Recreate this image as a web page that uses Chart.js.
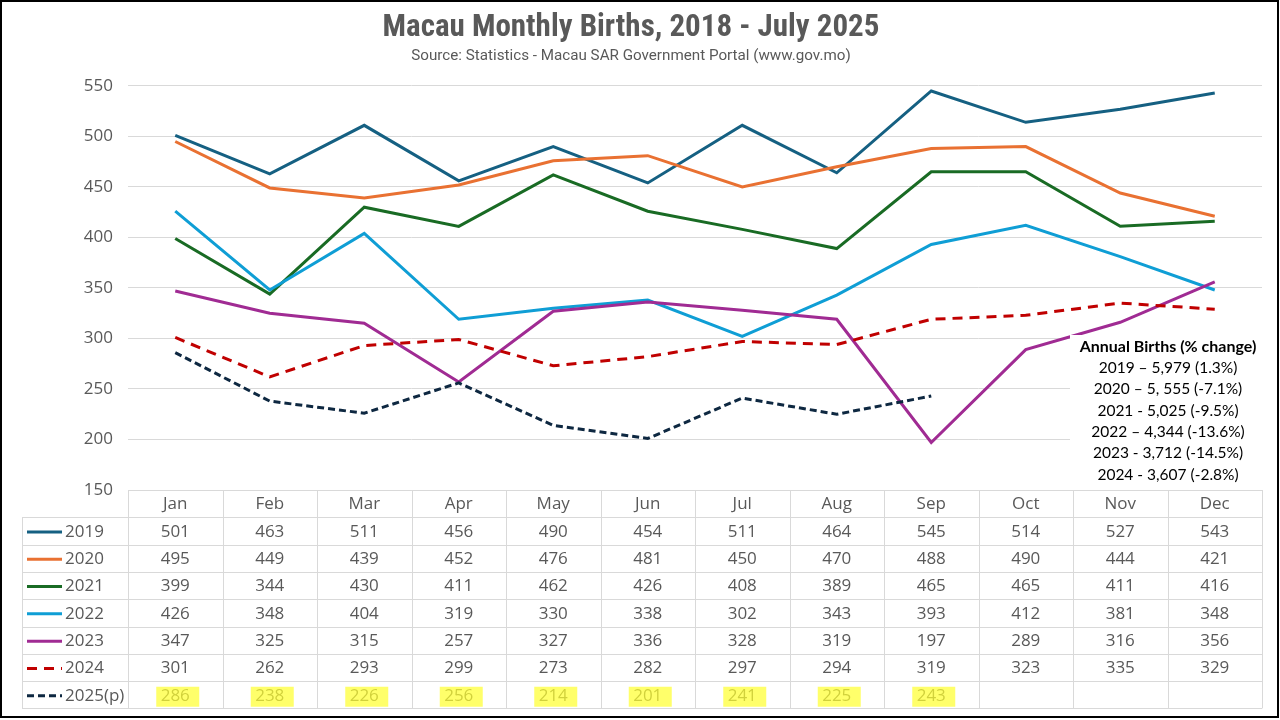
<!DOCTYPE html>
<html>
<head>
<meta charset="utf-8">
<title>Macau Monthly Births</title>
<script src="https://cdn.jsdelivr.net/npm/chart.js@4.4.1/dist/chart.umd.min.js"></script>
<style>
  body { margin: 0; background: #fff; }
  #wrap { width: 1280px; height: 720px; position: relative; }
</style>
</head>
<body>
<div id="wrap"><canvas id="chart"></canvas></div>
<script>
// data
const months = ["Jan", "Feb", "Mar", "Apr", "May", "Jun", "Jul", "Aug", "Sep", "Oct", "Nov", "Dec"];
const years = ["2019", "2020", "2021", "2022", "2023", "2024", "2025(p)"];
const births2019 = [501, 463, 511, 456, 490, 454, 511, 464, 545, 514, 527, 543];
const births2020 = [495, 449, 439, 452, 476, 481, 450, 470, 488, 490, 444, 421];
const births2021 = [399, 344, 430, 411, 462, 426, 408, 389, 465, 465, 411, 416];
const births2022 = [426, 348, 404, 319, 330, 338, 302, 343, 393, 412, 381, 348];
const births2023 = [347, 325, 315, 257, 327, 336, 328, 319, 197, 289, 316, 356];
const births2024 = [301, 262, 293, 299, 273, 282, 297, 294, 319, 323, 335, 329];
const births2025 = [286, 238, 226, 256, 214, 201, 241, 225, 243, null, null, null];
const yMin = 150, yMax = 550, yStep = 50;

const annualTitle = "Annual Births (% change)";
const annualLines = [
  "2019 \u2013 5,979 (1.3%)",
  "2020 \u2013 5, 555 (-7.1%)",
  "2021 - 5,025 (-9.5%)",
  "2022 \u2013 4,344 (-13.6%)",
  "2023 - 3,712 (-14.5%)",
  "2024 - 3,607 (-2.8%)"
];

const series = [births2019, births2020, births2021, births2022, births2023, births2024, births2025];
const colors = ["#156082", "#E97132", "#196B24", "#0F9ED5", "#A02B93", "#C00000", "#0E2841"];
const dashes = [[], [], [], [], [], [10, 7], [7, 4]];

const grey = "#595959";
const gridCol = "#d9d9d9";
const bodyFont = "'Open Sans', 'Noto Sans', sans-serif";
const narrowFont = "'Liberation Sans Narrow', 'Roboto Condensed', Roboto, sans-serif";
const noteFont = "Lato, 'Noto Sans', sans-serif";

// white box with annual totals, drawn over the lines
const notePlugin = {
  id: 'annualNote',
  afterDatasetsDraw(chart) {
    const ctx = chart.ctx;
    const a = chart.chartArea;
    ctx.save();
    ctx.fillStyle = "#fff";
    ctx.fillRect(1070, 335, a.right - 1070 + 2, a.bottom - 335 - 1);
    ctx.fillStyle = "#000";
    ctx.textAlign = "center";
    ctx.textBaseline = "middle";
    const cx = 1168;
    ctx.font = "bold 16px " + noteFont;
    ctx.fillText(annualTitle, cx, 347);
    ctx.font = "15.5px " + noteFont;
    annualLines.forEach((t, i) => ctx.fillText(t, cx, 368 + i * 21.3));
    ctx.restore();
  }
};

// data table under the plot, columns follow the x scale
const tablePlugin = {
  id: 'dataTable',
  afterDraw(chart) {
    const ctx = chart.ctx;
    const a = chart.chartArea;
    const xs = chart.scales.x;
    const colW = (a.right - a.left) / months.length;
    const top = a.bottom;
    const rowH = 27.3;
    const legLeft = 22;
    const bottom = top + rowH * (years.length + 1);
    ctx.save();
    ctx.strokeStyle = gridCol;
    ctx.lineWidth = 1;
    ctx.beginPath();
    ctx.moveTo(a.left, top + 0.5); ctx.lineTo(a.right, top + 0.5);
    for (let r = 1; r <= years.length + 1; r++) {
      const y = Math.round(top + r * rowH) + 0.5;
      ctx.moveTo(legLeft, y); ctx.lineTo(a.right, y);
    }
    for (let c = 0; c <= months.length; c++) {
      const x = Math.round(a.left + c * colW) + 0.5;
      ctx.moveTo(x, top); ctx.lineTo(x, bottom);
    }
    ctx.moveTo(legLeft + 0.5, top + rowH); ctx.lineTo(legLeft + 0.5, bottom);
    ctx.stroke();

    ctx.font = "17px " + bodyFont;
    ctx.fillStyle = grey;
    ctx.textAlign = "center";
    ctx.textBaseline = "middle";
    months.forEach((m, i) => ctx.fillText(m, xs.getPixelForValue(i), top + rowH / 2 + 1));

    series.forEach((vals, r) => {
      const y = top + rowH * (r + 1) + rowH / 2 + 1;
      // legend key
      ctx.save();
      ctx.strokeStyle = colors[r];
      ctx.lineWidth = 3;
      ctx.setLineDash(dashes[r]);
      ctx.beginPath();
      ctx.moveTo(27, y); ctx.lineTo(62, y);
      ctx.stroke();
      ctx.restore();
      ctx.textAlign = "left";
      ctx.fillText(years[r], 65, y);
      ctx.textAlign = "center";
      vals.forEach((v, i) => {
        if (v === null) return;
        ctx.fillText(String(v), xs.getPixelForValue(i), y);
      });
    });

    // highlighter over the provisional 2025 row
    const hy = top + rowH * years.length + rowH / 2 + 2;
    ctx.globalAlpha = 0.72;
    ctx.fillStyle = "#ffff30";
    births2025.forEach((v, i) => {
      if (v === null) return;
      const cx = xs.getPixelForValue(i);
      ctx.fillRect(cx - 19, hy - 10, 43, 20);
    });
    ctx.globalAlpha = 1;

    // outer frame
    ctx.strokeStyle = "#000";
    ctx.lineWidth = 2;
    ctx.strokeRect(1, 1, chart.width - 3, chart.height - 4);
    ctx.restore();
  }
};

const bgPlugin = {
  id: 'bg',
  beforeDraw(chart) {
    const ctx = chart.ctx;
    ctx.save();
    ctx.fillStyle = "#fff";
    ctx.fillRect(0, 0, chart.width, chart.height);
    ctx.restore();
  }
};

const datasets = series.map((vals, i) => ({
  label: years[i],
  data: vals,
  borderColor: colors[i],
  backgroundColor: colors[i],
  borderWidth: 3,
  borderDash: dashes[i],
  pointRadius: 0,
  tension: 0,
  spanGaps: false,
  order: series.length - i
}));

let ctx = document.getElementById("chart").getContext("2d");
let chart = new Chart(ctx, {
  type: 'line',
  data: { labels: months, datasets: datasets },
  options: {
    responsive: true,
    maintainAspectRatio: false,
    animation: false,
    layout: { padding: { top: 0, right: 18, bottom: 230, left: 0 } },
    plugins: {
      legend: { display: false },
      tooltip: { enabled: false },
      title: {
        display: true,
        text: "Macau Monthly Births, 2018 - July 2025",
        color: grey,
        font: { family: narrowFont, size: 31, weight: 'bold' },
        padding: { top: 10, bottom: 0 }
      },
      subtitle: {
        display: true,
        text: "Source: Statistics - Macau SAR Government Portal (www.gov.mo)",
        color: grey,
        font: { family: "Roboto, sans-serif", size: 15.2 },
        padding: { top: 0, bottom: 20.5 }
      }
    },
    scales: {
      x: { display: false, offset: true },
      y: {
        min: yMin,
        max: yMax,
        ticks: { stepSize: yStep, color: grey, padding: 15, font: { family: bodyFont, size: 17 } },
        grid: { color: gridCol, drawTicks: false },
        border: { display: false },
        afterFit(scale) { scale.width = 128; }
      }
    }
  },
  plugins: [bgPlugin, notePlugin, tablePlugin]
});
</script>
</body>
</html>
